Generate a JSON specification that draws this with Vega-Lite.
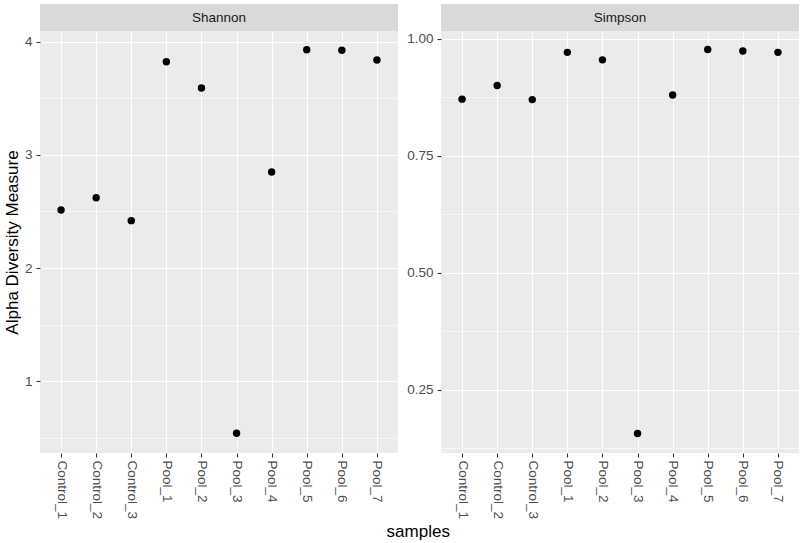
{
  "$schema": "https://vega.github.io/schema/vega-lite/v6.json",
  "padding": {"left": 3, "top": 4, "right": 2, "bottom": 0},
  "background": "white",
  "title": {"text": "samples", "orient": "bottom", "anchor": "middle", "fontSize": 17, "fontWeight": "normal", "font": "Liberation Sans", "color": "black", "offset": 5, "dx": 17},
  "datasets": {
    "alpha": [
      {"measure": "Shannon", "sample": "Control_1", "value": 2.513},
      {"measure": "Shannon", "sample": "Control_2", "value": 2.622},
      {"measure": "Shannon", "sample": "Control_3", "value": 2.419},
      {"measure": "Shannon", "sample": "Pool_1", "value": 3.823},
      {"measure": "Shannon", "sample": "Pool_2", "value": 3.591},
      {"measure": "Shannon", "sample": "Pool_3", "value": 0.541},
      {"measure": "Shannon", "sample": "Pool_4", "value": 2.849},
      {"measure": "Shannon", "sample": "Pool_5", "value": 3.929},
      {"measure": "Shannon", "sample": "Pool_6", "value": 3.924},
      {"measure": "Shannon", "sample": "Pool_7", "value": 3.838},
      {"measure": "Simpson", "sample": "Control_1", "value": 0.871},
      {"measure": "Simpson", "sample": "Control_2", "value": 0.900},
      {"measure": "Simpson", "sample": "Control_3", "value": 0.870},
      {"measure": "Simpson", "sample": "Pool_1", "value": 0.971},
      {"measure": "Simpson", "sample": "Pool_2", "value": 0.955},
      {"measure": "Simpson", "sample": "Pool_3", "value": 0.156},
      {"measure": "Simpson", "sample": "Pool_4", "value": 0.880},
      {"measure": "Simpson", "sample": "Pool_5", "value": 0.977},
      {"measure": "Simpson", "sample": "Pool_6", "value": 0.974},
      {"measure": "Simpson", "sample": "Pool_7", "value": 0.971}
    ]
  },
  "hconcat": [
    {
      "vconcat": [
        {
          "width": 358, "height": 27,
          "data": {"values": [{"label": "Shannon"}]},
          "view": {"fill": "#D9D9D9", "stroke": null},
          "mark": {"type": "text", "fontSize": 13.5, "color": "#1A1A1A", "font": "Liberation Sans", "baseline": "middle", "align": "center"},
          "encoding": {"text": {"field": "label"}}
        },
        {
          "width": 358, "height": 422,
          "data": {"name": "alpha"},
          "transform": [{"filter": "datum.measure === 'Shannon'"}],
          "encoding": {
            "x": {"field": "sample", "type": "nominal", "scale": {"type": "point", "padding": 0.6},
                  "axis": {"title": null, "grid": true, "labelAngle": 90, "labelPadding": 3, "labelOverlap": false, "labelBound": false}}
          },
          "layer": [
            {
              "mark": {"type": "point", "opacity": 0},
              "encoding": {
                "y": {"field": "value", "type": "quantitative", "scale": {"domain": [0.367, 4.094], "nice": false, "zero": false},
                      "axis": {"orient": "right", "grid": true, "values": [0.5, 1.5, 2.5, 3.5], "labels": false, "ticks": false, "title": null, "gridWidth": 0.55}}
              }
            },
            {
              "mark": {"type": "point", "filled": true, "color": "black", "opacity": 1, "size": 55},
              "encoding": {
                "y": {"field": "value", "type": "quantitative", "scale": {"domain": [0.367, 4.094], "nice": false, "zero": false},
                      "axis": {"orient": "left", "grid": true, "values": [1, 2, 3, 4], "title": "Alpha Diversity Measure", "titlePadding": 3}}
              }
            }
          ],
          "resolve": {"axis": {"y": "independent"}}
        }
      ],
      "spacing": 0
    },
    {
      "vconcat": [
        {
          "width": 358, "height": 27,
          "data": {"values": [{"label": "Simpson"}]},
          "view": {"fill": "#D9D9D9", "stroke": null},
          "mark": {"type": "text", "fontSize": 13.5, "color": "#1A1A1A", "font": "Liberation Sans", "baseline": "middle", "align": "center"},
          "encoding": {"text": {"field": "label"}}
        },
        {
          "width": 358, "height": 422,
          "data": {"name": "alpha"},
          "transform": [{"filter": "datum.measure === 'Simpson'"}],
          "encoding": {
            "x": {"field": "sample", "type": "nominal", "scale": {"type": "point", "padding": 0.6},
                  "axis": {"title": null, "grid": true, "labelAngle": 90, "labelPadding": 3, "labelOverlap": false, "labelBound": false}}
          },
          "layer": [
            {
              "mark": {"type": "point", "opacity": 0},
              "encoding": {
                "y": {"field": "value", "type": "quantitative", "scale": {"domain": [0.1144, 1.0167], "nice": false, "zero": false},
                      "axis": {"orient": "right", "grid": true, "values": [0.125, 0.375, 0.625, 0.875], "labels": false, "ticks": false, "title": null, "gridWidth": 0.55}}
              }
            },
            {
              "mark": {"type": "point", "filled": true, "color": "black", "opacity": 1, "size": 55},
              "encoding": {
                "y": {"field": "value", "type": "quantitative", "scale": {"domain": [0.1144, 1.0167], "nice": false, "zero": false},
                      "axis": {"orient": "left", "grid": true, "values": [0.25, 0.5, 0.75, 1.0], "format": ".2f", "title": null}}
              }
            }
          ],
          "resolve": {"axis": {"y": "independent"}}
        }
      ],
      "spacing": 0
    }
  ],
  "spacing": 8,
  "config": {
    "font": "Liberation Sans",
    "view": {"fill": "#EBEBEB", "stroke": null},
    "axis": {"domain": false, "tickColor": "#333333", "tickSize": 4, "tickWidth": 1.1, "labelColor": "#4D4D4D", "labelFontSize": 13.5, "labelPadding": 4, "gridColor": "white", "gridWidth": 1.1, "titleFontSize": 17, "titleFontWeight": "normal", "titleColor": "black"}
  }
}
